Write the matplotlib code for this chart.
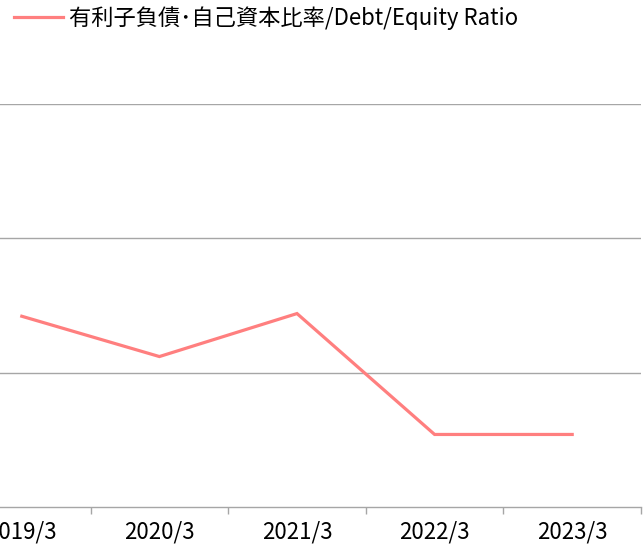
import matplotlib.pyplot as plt
import numpy as np

plt.rcParams['font.family'] = ['Noto Sans CJK JP', 'DejaVu Sans']

years = ['2019/3', '2020/3', '2021/3', '2022/3', '2023/3']
de_ratio = [0.142, 0.112, 0.144, 0.054, 0.054]
series_name = '有利子負債･自己資本比率/Debt/Equity Ratio'

W, H = 643, 544
fig = plt.figure(figsize=(W / 100, H / 100), dpi=100)
# plot area runs off the left edge of the picture (cropped like the original)
left, right, top, bottom = -47, 641, 104, 507
ax = fig.add_axes([left / W, (H - bottom) / H, (right - left) / W, (bottom - top) / H])

x = np.arange(len(years))
line, = ax.plot(x, de_ratio, color='#FF7F7F', lw=2.3, solid_joinstyle='miter')

ax.set_xlim(-0.5, len(years) - 0.5)
ax.set_ylim(0, 0.3)
ax.set_yticks([0.1, 0.2, 0.3])
ax.yaxis.grid(True, color='#A6A6A6', lw=1)
ax.tick_params(axis='y', length=0, labelleft=False)

ax.set_xticks(np.arange(-0.5, len(years)))
ax.set_xticklabels([])
ax.tick_params(axis='x', which='major', length=5, color='#A6A6A6', width=1)
ax.set_xticks(x, minor=True)
ax.set_xticklabels(years, minor=True, fontsize=16)
ax.tick_params(axis='x', which='minor', length=0, pad=10)

for s in ['top', 'left', 'right']:
    ax.spines[s].set_visible(False)
ax.spines['bottom'].set_color('#A6A6A6')
ax.spines['bottom'].set_linewidth(1)
ax.set_axisbelow(True)

fig.legend([line], [series_name], loc='upper left', bbox_to_anchor=(10 / W, 1 - 2 / H),
           frameon=False, fontsize=16, handlelength=2.2, handletextpad=0.25,
           borderaxespad=0, borderpad=0.2)

fig.savefig('out.png', dpi=100)
